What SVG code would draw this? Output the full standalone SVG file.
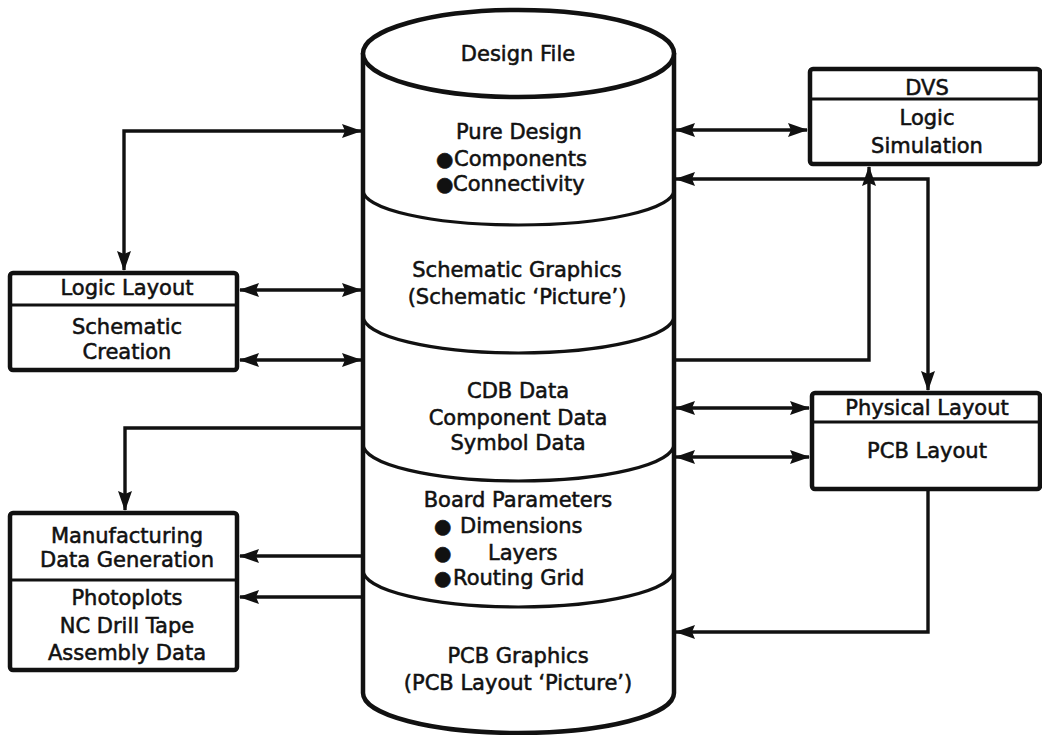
<svg xmlns="http://www.w3.org/2000/svg" width="1042" height="735" viewBox="0 0 1042 735">
  <style>
    .txt { font-family: "DejaVu Sans", "Liberation Sans", sans-serif; font-size: 21px; fill: #111; stroke: #111; stroke-width: 0.55; text-anchor: middle; }
    .left { text-anchor: start; }
    .bul { font-size: 20px; }
    .box { fill: #fff; stroke: #111; stroke-width: 4.5; }
    .sep { stroke: #111; stroke-width: 3; fill: none; }
    .cyl { fill: #fff; stroke: #111; stroke-width: 4.5; }
    .div { fill: none; stroke: #111; stroke-width: 3.2; }
    .con { fill: none; stroke: #111; stroke-width: 3.4; }
    .one { marker-end: url(#head); }
    .two { marker-start: url(#head); marker-end: url(#head); }
  </style>
  <defs>
    <marker id="head" viewBox="0 0 20 14" refX="19" refY="7" markerWidth="20" markerHeight="14" markerUnits="userSpaceOnUse" orient="auto-start-reverse">
      <path d="M0,0 L20,7 L0,14 L3,7 z" fill="#111"/>
    </marker>
  </defs>
  <rect width="1042" height="735" fill="#fff"/>

  <!-- central design file cylinder -->
  <g id="design-file">
    <path class="cyl" d="M363,53 L363,693 A155.5,40 0 0 0 674,693 L674,53"/>
    <ellipse class="cyl" cx="518.5" cy="53.5" rx="155.5" ry="43.5"/>
    <path class="div" d="M363,190 A155.5,35 0 0 0 674,190"/>
    <path class="div" d="M363,316 A155.5,37 0 0 0 674,316"/>
    <path class="div" d="M363,444 A155.5,37 0 0 0 674,444"/>
    <path class="div" d="M363,570 A155.5,37 0 0 0 674,570"/>
    <text class="txt" x="518" y="61">Design File</text>
    <text class="txt" x="519" y="139">Pure Design</text>
    <text class="txt left"><tspan class="bul" x="436" y="166">●</tspan><tspan x="454" y="166">Components</tspan></text>
    <text class="txt left"><tspan class="bul" x="436" y="191">●</tspan><tspan x="453" y="191">Connectivity</tspan></text>
    <text class="txt" x="517" y="277">Schematic Graphics</text>
    <text class="txt" x="517" y="304">(Schematic ‘Picture’)</text>
    <text class="txt" x="518" y="398">CDB Data</text>
    <text class="txt" x="518" y="425">Component Data</text>
    <text class="txt" x="518" y="450">Symbol Data</text>
    <text class="txt" x="518" y="507">Board Parameters</text>
    <text class="txt left"><tspan class="bul" x="434" y="533">●</tspan><tspan x="460" y="533">Dimensions</tspan></text>
    <text class="txt left"><tspan class="bul" x="434" y="560">●</tspan><tspan x="488" y="560">Layers</tspan></text>
    <text class="txt left"><tspan class="bul" x="434" y="585">●</tspan><tspan x="453" y="585">Routing Grid</tspan></text>
    <text class="txt" x="518" y="663">PCB Graphics</text>
    <text class="txt" x="518" y="690">(PCB Layout ‘Picture’)</text>
  </g>

  <!-- Logic Layout -->
  <g id="logic-layout">
    <rect class="box" x="10" y="273" width="227" height="97" rx="3"/>
    <line class="sep" x1="10" y1="305" x2="237" y2="305"/>
    <text class="txt" x="127" y="295">Logic Layout</text>
    <text class="txt" x="127" y="334">Schematic</text>
    <text class="txt" x="127" y="359">Creation</text>
  </g>

  <!-- DVS -->
  <g id="dvs">
    <rect class="box" x="810" y="69" width="230" height="95" rx="3"/>
    <line class="sep" x1="810" y1="99" x2="1040" y2="99"/>
    <text class="txt" x="927" y="95">DVS</text>
    <text class="txt" x="927" y="125">Logic</text>
    <text class="txt" x="927" y="153">Simulation</text>
  </g>

  <!-- Physical Layout -->
  <g id="physical-layout">
    <rect class="box" x="812" y="393" width="228" height="96" rx="3"/>
    <line class="sep" x1="812" y1="422" x2="1040" y2="422"/>
    <text class="txt" x="927" y="415">Physical Layout</text>
    <text class="txt" x="927" y="458">PCB Layout</text>
  </g>

  <!-- Manufacturing Data Generation -->
  <g id="manufacturing">
    <rect class="box" x="10" y="513" width="227" height="157" rx="3"/>
    <line class="sep" x1="10" y1="580" x2="237" y2="580"/>
    <text class="txt" x="127" y="543">Manufacturing</text>
    <text class="txt" x="127" y="567">Data Generation</text>
    <text class="txt" x="127" y="605">Photoplots</text>
    <text class="txt" x="127" y="633">NC Drill Tape</text>
    <text class="txt" x="127" y="660">Assembly Data</text>
  </g>

  <!-- connectors -->
  <g id="connectors">
    <path class="con two" d="M124,270 L124,131 L361,131"/>
    <line class="con two" x1="240" y1="290" x2="361" y2="290"/>
    <line class="con two" x1="240" y1="360" x2="361" y2="360"/>
    <line class="con two" x1="676" y1="130" x2="807" y2="130"/>
    <path class="con two" d="M676,179 L928,179 L928,390"/>
    <path class="con one" d="M674,360 L869,360 L869,167"/>
    <line class="con two" x1="676" y1="408" x2="809" y2="408"/>
    <line class="con two" x1="676" y1="457" x2="809" y2="457"/>
    <path class="con one" d="M928,489 L928,632 L676,632"/>
    <path class="con one" d="M363,428 L125,428 L125,510"/>
    <line class="con one" x1="363" y1="556" x2="240" y2="556"/>
    <line class="con one" x1="363" y1="597" x2="240" y2="597"/>
  </g>
</svg>
